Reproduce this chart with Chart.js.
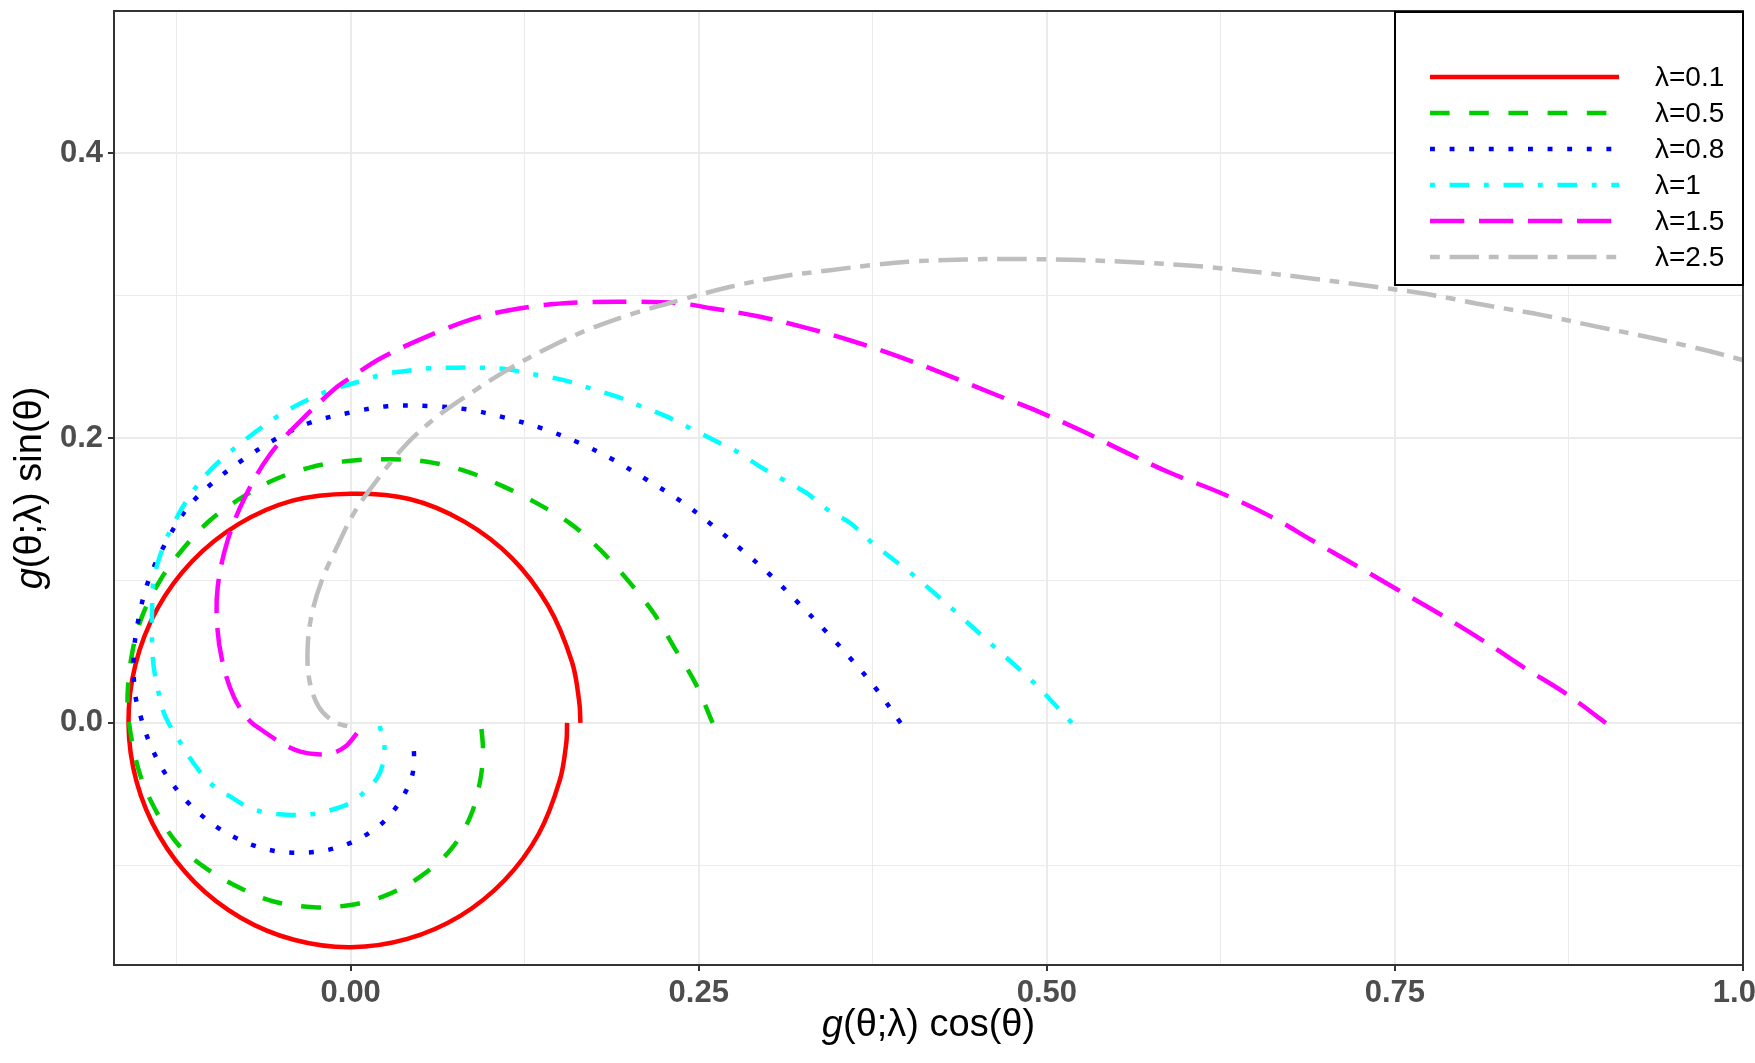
<!DOCTYPE html>
<html>
<head>
<meta charset="utf-8">
<script src="https://cdn.jsdelivr.net/npm/chart.js@4"></script>
<style>
  html, body { margin: 0; padding: 0; background: #fff; overflow: hidden; }
  #wrap { width: 1755px; height: 1063px; position: relative; }
</style>
</head>
<body>
<div id="wrap"><canvas id="chart"></canvas></div>
<script>
// curves as [x, y] = [g cos(θ), g sin(θ)], from θ = 0 onwards
const lambda01 = [
  [0.165, 0], [0.1642, 0.0143], [0.159, 0.0426], [0.142, 0.082], [0.1158, 0.1158], [0.0816, 0.1414],
  [0.0422, 0.1573], [0, 0.161], [-0.0418, 0.1561], [-0.0806, 0.1396], [-0.1137, 0.1137],
  [-0.1389, 0.0802], [-0.1545, 0.0414], [-0.1596, 0], [-0.1538, -0.0412], [-0.1375, -0.0794],
  [-0.112, -0.112], [-0.079, -0.1368], [-0.0408, -0.1523], [0, -0.1575], [0.0407, -0.1517],
  [0.0784, -0.1357], [0.1105, -0.1105], [0.135, -0.078], [0.1502, -0.0402], [0.1549, -0.0135], [0.1554, 0]
];
const lambda05 = [
  [0.26, 0], [0.2476, 0.0278], [0.232, 0.0536], [0.2177, 0.077], [0.2009, 0.098],
  [0.1793, 0.1215], [0.1578, 0.14], [0.1339, 0.1542], [0.1099, 0.166], [0.0836, 0.1765],
  [0.0549, 0.1835], [0.0285, 0.1852], [0, 0.1842], [-0.029, 0.1795], [-0.0553, 0.1706],
  [-0.0792, 0.1577], [-0.1008, 0.1425], [-0.1211, 0.1215], [-0.1367, 0.1004], [-0.1499, 0.0747],
  [-0.157, 0.0489], [-0.1602, 0.0208], [-0.1592, 0], [-0.1523, -0.033], [-0.1415, -0.0587],
  [-0.1247, -0.0845], [-0.1056, -0.1009], [-0.0816, -0.1149], [-0.0553, -0.1254], [-0.0266, -0.1294],
  [0, -0.1278], [0.0261, -0.1208], [0.05, -0.1079], [0.0716, -0.0892], [0.0859, -0.0658],
  [0.0931, -0.04], [0.095, -0.019], [0.0936, -0.001]
];
const lambda08 = [
  [0.395, 0], [0.378, 0.0232], [0.36, 0.0442], [0.341, 0.0646], [0.3218, 0.084],
  [0.3014, 0.1039], [0.281, 0.1215], [0.2595, 0.139], [0.2368, 0.156], [0.2129, 0.1706],
  [0.189, 0.1846], [0.1638, 0.1968], [0.1374, 0.2069], [0.11, 0.2146], [0.0836, 0.2202],
  [0.0549, 0.2226], [0.0261, 0.2224], [0, 0.2181], [-0.029, 0.2109], [-0.0529, 0.1999],
  [-0.0768, 0.1853], [-0.0996, 0.1683], [-0.1175, 0.1507], [-0.1331, 0.1261], [-0.1451, 0.1004],
  [-0.1523, 0.0735], [-0.1559, 0.0466], [-0.1547, 0.0197], [-0.151, 0.0051], [-0.1468, -0.008],
  [-0.1415, -0.0206], [-0.1348, -0.033], [-0.1271, -0.044], [-0.118, -0.0548], [-0.108, -0.0641],
  [-0.0965, -0.0728], [-0.0845, -0.0798], [-0.0721, -0.0852], [-0.0582, -0.0892], [-0.044, -0.091],
  [-0.0302, -0.091], [-0.0165, -0.0892], [-0.0026, -0.0852], [0.0098, -0.0793], [0.0213, -0.0716],
  [0.0309, -0.0615], [0.0385, -0.0501], [0.0441, -0.0372], [0.0455, -0.0236], [0.0443, -0.0101]
];
const lambda1 = [
  [0.518, 0], [0.491, 0.0279], [0.462, 0.0536], [0.433, 0.0793], [0.404, 0.1039],
  [0.375, 0.1261], [0.359, 0.1402], [0.343, 0.1495], [0.3278, 0.1612], [0.311, 0.1706],
  [0.294, 0.18], [0.2787, 0.1898], [0.2607, 0.1987], [0.244, 0.2069], [0.2272, 0.2151],
  [0.2093, 0.2221], [0.1913, 0.2291], [0.1722, 0.235], [0.153, 0.2408], [0.1339, 0.2443],
  [0.1123, 0.2483], [0.0932, 0.2495], [0.0764, 0.2495], [0.0572, 0.2491], [0.0357, 0.2467],
  [0.0213, 0.2443], [0.0057, 0.2396], [-0.0146, 0.2338], [-0.0338, 0.2256], [-0.0529, 0.2151],
  [-0.0697, 0.2034], [-0.0864, 0.1905], [-0.1008, 0.1776], [-0.1152, 0.1601], [-0.1271, 0.1402],
  [-0.1355, 0.1215], [-0.1415, 0.1004], [-0.1427, 0.077], [-0.1427, 0.0583], [-0.1415, 0.0396],
  [-0.1379, 0.0208], [-0.1331, 0.0044], [-0.1223, -0.0138], [-0.1128, -0.0283], [-0.1008, -0.0424],
  [-0.0864, -0.0517], [-0.0721, -0.0599], [-0.0577, -0.0634], [-0.0433, -0.0646], [-0.0266, -0.0639],
  [-0.0098, -0.0599], [0, -0.0559], [0.0093, -0.0489], [0.0189, -0.0388], [0.0232, -0.0283],
  [0.0242, -0.0154], [0.0208, -0.0021]
];
const lambda15 = [
  [0.9015, 0], [0.8725, 0.0208], [0.8435, 0.0384], [0.8145, 0.0571], [0.7813, 0.077],
  [0.7523, 0.0934], [0.7233, 0.1098], [0.69, 0.1285], [0.661, 0.1449], [0.625, 0.1615],
  [0.5889, 0.1755], [0.5579, 0.1895], [0.5258, 0.2048], [0.4936, 0.2188], [0.4602, 0.2317],
  [0.4281, 0.2445], [0.3947, 0.2569], [0.3613, 0.2679], [0.3279, 0.2773], [0.2933, 0.2855],
  [0.2587, 0.2913], [0.2368, 0.2946], [0.2033, 0.2958], [0.165, 0.2953], [0.1291, 0.2923],
  [0.0932, 0.2853], [0.0572, 0.2724], [0.0213, 0.256], [0, 0.2425], [-0.011, 0.235],
  [-0.0342, 0.2139], [-0.0577, 0.1889], [-0.0764, 0.1577], [-0.0888, 0.1268], [-0.0955, 0.0957],
  [-0.096, 0.07], [-0.0924, 0.0442], [-0.084, 0.0185], [-0.073, 0.002], [-0.0661, -0.0035],
  [-0.0481, -0.015], [-0.0362, -0.0201], [-0.0242, -0.022], [-0.0134, -0.0213], [-0.0038, -0.0166],
  [0.0045, -0.0073]
];
const lambda25 = [
  [1.0, 0.2549], [0.968, 0.263], [0.9306, 0.2712], [0.8933, 0.2787], [0.8559, 0.2864],
  [0.8145, 0.2935], [0.773, 0.3012], [0.7316, 0.3068], [0.6901, 0.3122], [0.6486, 0.3169],
  [0.6072, 0.3209], [0.5657, 0.3234], [0.5242, 0.3251], [0.4828, 0.3258], [0.4413, 0.3255],
  [0.3999, 0.3239], [0.3733, 0.3214], [0.3445, 0.318], [0.3086, 0.3134], [0.2727, 0.3063],
  [0.2368, 0.297], [0.2033, 0.2876], [0.1698, 0.2759], [0.141, 0.263], [0.1123, 0.2478],
  [0.086, 0.2315], [0.062, 0.2151], [0.0405, 0.1963], [0.0189, 0.1706], [0.0022, 0.1472],
  [-0.0098, 0.1238], [-0.0206, 0.1004], [-0.0278, 0.077], [-0.0309, 0.0536], [-0.0297, 0.0302],
  [-0.023, 0.0115], [-0.0122, 0.0009], [-0.0014, -0.0026]
];

const seriesLabels = ["λ=0.1", "λ=0.5", "λ=0.8", "λ=1", "λ=1.5", "λ=2.5"];
const seriesData = [lambda01, lambda05, lambda08, lambda1, lambda15, lambda25];
const seriesColors = ["#FF0000", "#00CD00", "#0000FF", "#00FFFF", "#FF00FF", "#BEBEBE"];
// ggplot line types: solid, dashed, dotted, dotdash, longdash, twodash
const u = 4.9;
const seriesDash = [[], [4*u, 4*u], [u, 3*u], [u, 3*u, 4*u, 3*u], [7*u, 3*u], [2*u, 2*u, 6*u, 2*u]];

const xTicks = [-0.125, 0, 0.125, 0.25, 0.375, 0.5, 0.625, 0.75, 0.875, 1.0];
const xLabels = ["", "0.00", "", "0.25", "", "0.50", "", "0.75", "", "1.00"];
const yTicks = [-0.1, 0, 0.1, 0.2, 0.3, 0.4];
const yLabels = ["", "0.0", "", "0.2", "", "0.4"];

const LINE_W = 4.5;
const FONT = "'Liberation Sans', Arial, Helvetica, sans-serif";

const datasets = seriesData.map((pts, i) => ({
  label: seriesLabels[i],
  data: pts.map(p => ({ x: p[0], y: p[1] })),
  borderColor: seriesColors[i],
  borderDash: seriesDash[i],
  borderWidth: LINE_W,
  borderCapStyle: "butt",
  showLine: true,
  pointRadius: 0,
  tension: 0.35,
  fill: false,
  order: seriesData.length - i
}));

function isMajor(list, labels, v) {
  const k = list.findIndex(t => Math.abs(t - v) < 1e-9);
  return k >= 0 && labels[k] !== "";
}

// panel border on top of the lines, as in theme_bw
const panelFrame = {
  id: "panelFrame",
  afterDatasetsDraw(chart) {
    const { ctx, chartArea: a } = chart;
    ctx.save();
    ctx.strokeStyle = "#333333";
    ctx.lineWidth = 2;
    ctx.strokeRect(a.left, a.top, a.right - a.left, a.bottom - a.top);
    ctx.restore();
  }
};

// boxed legend inside the panel, top right
const boxLegend = {
  id: "boxLegend",
  afterDraw(chart) {
    const { ctx, chartArea: a } = chart;
    const w = 348, h = 273;
    const left = a.right - w, top = a.top + 1;
    ctx.save();
    ctx.fillStyle = "#ffffff";
    ctx.fillRect(left, top, w, h);
    ctx.strokeStyle = "#000000";
    ctx.lineWidth = 2;
    ctx.strokeRect(left, top, w, h);
    ctx.font = "28px " + FONT;
    ctx.textBaseline = "middle";
    chart.data.datasets.forEach((ds, i) => {
      const y = top + 65 + i * 36;
      ctx.beginPath();
      ctx.setLineDash(ds.borderDash);
      ctx.lineCap = "butt";
      ctx.strokeStyle = ds.borderColor;
      ctx.lineWidth = LINE_W;
      ctx.moveTo(left + 35, y);
      ctx.lineTo(left + 224, y);
      ctx.stroke();
      ctx.setLineDash([]);
      ctx.fillStyle = "#000000";
      ctx.fillText(ds.label, left + 260, y + 1);
    });
    ctx.restore();
  }
};

// axis titles with an italic g
function drawMixed(ctx, parts, cx, cy) {
  let total = 0;
  parts.forEach(p => { ctx.font = p.font; total += ctx.measureText(p.text).width; });
  let x = cx - total / 2;
  parts.forEach(p => {
    ctx.font = p.font;
    ctx.fillText(p.text, x, cy);
    x += ctx.measureText(p.text).width;
  });
}
const axisTitles = {
  id: "axisTitles",
  afterDraw(chart) {
    const { ctx, chartArea: a } = chart;
    const it = "italic 38px " + FONT, rg = "38px " + FONT;
    ctx.save();
    ctx.fillStyle = "#000000";
    ctx.textBaseline = "middle";
    ctx.textAlign = "left";
    drawMixed(ctx, [{ text: "g", font: it }, { text: "(θ;λ) cos(θ)", font: rg }], (a.left + a.right) / 2, 1026);
    ctx.translate(31, (a.top + a.bottom) / 2);
    ctx.rotate(-Math.PI / 2);
    drawMixed(ctx, [{ text: "g", font: it }, { text: "(θ;λ) sin(θ)", font: rg }], 0, 0);
    ctx.restore();
  }
};

new Chart(document.getElementById("chart"), {
  type: "scatter",
  data: { datasets },
  options: {
    responsive: true,
    maintainAspectRatio: false,
    animation: false,
    devicePixelRatio: 1,
    layout: { padding: { top: 11, right: 12, bottom: 0, left: 0 } },
    plugins: { legend: { display: false }, tooltip: { enabled: false } },
    scales: {
      x: {
        type: "linear",
        min: -0.17,
        max: 1.0,
        afterBuildTicks: s => { s.ticks = xTicks.map(v => ({ value: v })); },
        afterFit: s => { s.height = 98; s.paddingLeft = 0; s.paddingRight = 0; },
        border: { display: false },
        grid: {
          color: "#EBEBEB",
          lineWidth: c => isMajor(xTicks, xLabels, c.tick.value) ? 2 : 1,
          tickColor: c => isMajor(xTicks, xLabels, c.tick.value) ? "#333333" : "rgba(0,0,0,0)",
          tickLength: 6,
          tickWidth: 2
        },
        ticks: {
          autoSkip: false,
          maxRotation: 0,
          padding: 4,
          color: "#4D4D4D",
          font: { family: FONT, size: 31, weight: "bold" },
          callback: v => { const k = xTicks.findIndex(t => Math.abs(t - v) < 1e-9); return k >= 0 ? xLabels[k] : ""; }
        }
      },
      y: {
        type: "linear",
        min: -0.17,
        max: 0.5,
        afterBuildTicks: s => { s.ticks = yTicks.map(v => ({ value: v })); },
        afterFit: s => { s.width = 114; s.paddingTop = 0; s.paddingBottom = 0; },
        border: { display: false },
        grid: {
          color: "#EBEBEB",
          lineWidth: c => isMajor(yTicks, yLabels, c.tick.value) ? 2 : 1,
          tickColor: c => isMajor(yTicks, yLabels, c.tick.value) ? "#333333" : "rgba(0,0,0,0)",
          tickLength: 6,
          tickWidth: 2
        },
        ticks: {
          autoSkip: false,
          padding: 5,
          color: "#4D4D4D",
          font: { family: FONT, size: 31, weight: "bold" },
          callback: v => { const k = yTicks.findIndex(t => Math.abs(t - v) < 1e-9); return k >= 0 ? yLabels[k] : ""; }
        }
      }
    }
  },
  plugins: [panelFrame, boxLegend, axisTitles]
});
</script>
</body>
</html>
